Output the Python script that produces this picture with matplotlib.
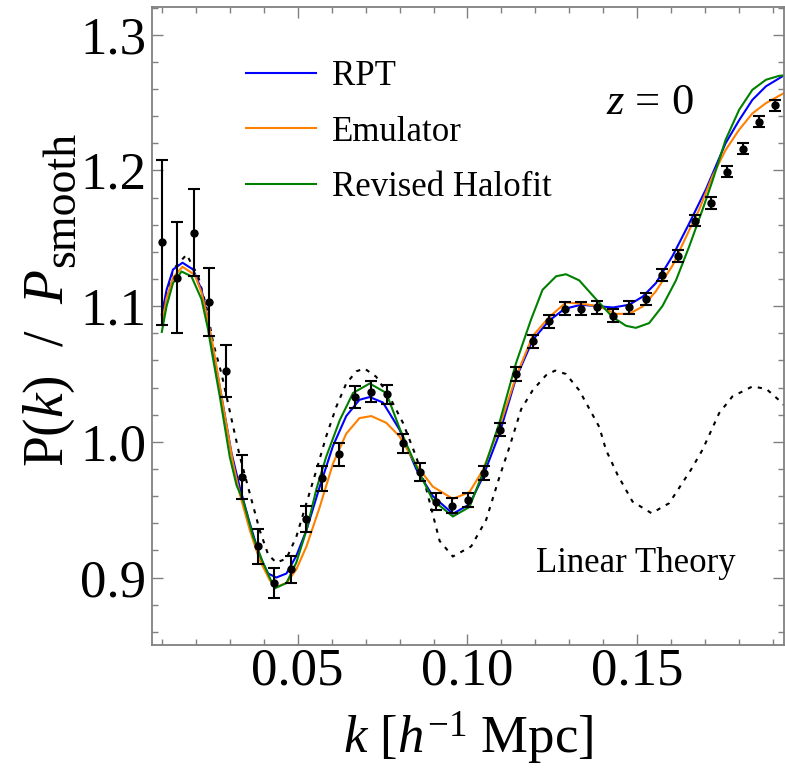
import matplotlib.pyplot as plt
from matplotlib.ticker import MultipleLocator, FormatStrFormatter

plt.rcParams['font.family'] = 'Liberation Serif'
plt.rcParams['mathtext.fontset'] = 'custom'
plt.rcParams['mathtext.rm'] = 'Liberation Serif'
plt.rcParams['mathtext.it'] = 'Liberation Serif:italic'

# measured points with errors
k_data = [0.0100, 0.0146, 0.0194, 0.0239, 0.0288, 0.0335, 0.0382, 0.0429, 0.0479, 0.0524,
          0.0571, 0.0621, 0.0668, 0.0715, 0.0763, 0.0810, 0.0859, 0.0906, 0.0953, 0.1001,
          0.1049, 0.1096, 0.1143, 0.1192, 0.1239, 0.1286, 0.1334, 0.1382, 0.1429, 0.1476,
          0.1526, 0.1574, 0.1621, 0.1669, 0.1717, 0.1764, 0.1811, 0.1859, 0.1907]
ratio_data = [1.147, 1.121, 1.154, 1.103, 1.052, 0.974, 0.923, 0.896, 0.906, 0.943,
              0.973, 0.991, 1.033, 1.037, 1.035, 0.999, 0.978, 0.956, 0.953, 0.957,
              0.977, 1.009, 1.050, 1.074, 1.089, 1.098, 1.098, 1.099, 1.093, 1.099,
              1.105, 1.123, 1.137, 1.163, 1.176, 1.199, 1.216, 1.236, 1.248]
err_data = [0.061, 0.041, 0.032, 0.025, 0.019, 0.016, 0.013, 0.011, 0.010, 0.0095,
            0.009, 0.0085, 0.008, 0.0075, 0.007, 0.007, 0.0065, 0.006, 0.0055, 0.0053,
            0.005, 0.0049, 0.0048, 0.0048, 0.0048, 0.0047, 0.0047, 0.0046, 0.0046, 0.0045,
            0.0045, 0.0044, 0.0044, 0.0043, 0.0043, 0.0042, 0.0041, 0.004, 0.0039]

# RPT
k_rpt = [0.0100, 0.0114, 0.0133, 0.0161, 0.0192, 0.0217, 0.0236, 0.0249, 0.0276, 0.0305,
         0.0329, 0.0359, 0.0388, 0.0413, 0.0437, 0.0467, 0.0496, 0.0526, 0.0565, 0.0604,
         0.0643, 0.0682, 0.0712, 0.0751, 0.0800, 0.0849, 0.0898, 0.0957, 0.1006, 0.1045,
         0.1094, 0.1143, 0.1192, 0.1239, 0.1286, 0.1334, 0.1382, 0.1429, 0.1476, 0.1516,
         0.1555, 0.1604, 0.1653, 0.1702, 0.1760, 0.1800, 0.1839, 0.1879, 0.1932]
p_rpt = [1.094, 1.112, 1.127, 1.132, 1.127, 1.112, 1.090, 1.070, 1.033, 0.992,
         0.967, 0.940, 0.916, 0.903, 0.900, 0.903, 0.916, 0.935, 0.967, 0.997,
         1.019, 1.031, 1.033, 1.029, 1.009, 0.980, 0.960, 0.947, 0.954, 0.974,
         1.006, 1.047, 1.075, 1.089, 1.098, 1.101, 1.100, 1.099, 1.101, 1.107,
         1.117, 1.137, 1.161, 1.186, 1.220, 1.237, 1.252, 1.262, 1.270]

# Emulator
k_emu = [0.0100, 0.0114, 0.0133, 0.0161, 0.0197, 0.0217, 0.0231, 0.0251, 0.0276, 0.0310,
         0.0329, 0.0359, 0.0388, 0.0418, 0.0437, 0.0467, 0.0496, 0.0526, 0.0565, 0.0604,
         0.0643, 0.0682, 0.0717, 0.0761, 0.0800, 0.0849, 0.0898, 0.0957, 0.1006, 0.1045,
         0.1094, 0.1143, 0.1192, 0.1241, 0.1290, 0.1339, 0.1388, 0.1437, 0.1476, 0.1516,
         0.1555, 0.1604, 0.1653, 0.1682, 0.1721, 0.1760, 0.1800, 0.1839, 0.1879, 0.1932]
p_emu = [1.086, 1.106, 1.121, 1.129, 1.123, 1.110, 1.095, 1.070, 1.033, 0.984,
         0.962, 0.935, 0.913, 0.898, 0.893, 0.896, 0.906, 0.923, 0.952, 0.984,
         1.006, 1.0175, 1.019, 1.014, 1.004, 0.983, 0.967, 0.958, 0.963, 0.979,
         1.011, 1.048, 1.078, 1.092, 1.1027, 1.1017, 1.0998, 1.0943, 1.0943, 1.0997,
         1.111, 1.130, 1.156, 1.171, 1.1955, 1.215, 1.230, 1.242, 1.2496, 1.257]

# Revised Halofit
k_hf = [0.0100, 0.0114, 0.0133, 0.0158, 0.0187, 0.0217, 0.0236, 0.0246, 0.0271, 0.0300,
        0.0320, 0.0339, 0.0369, 0.0398, 0.0432, 0.0467, 0.0496, 0.0526, 0.0555, 0.0584,
        0.0624, 0.0663, 0.0712, 0.0761, 0.0800, 0.0849, 0.0898, 0.0957, 0.1006, 0.1045,
        0.1094, 0.1143, 0.1187, 0.1221, 0.1261, 0.1290, 0.1329, 0.1379, 0.1427, 0.1467,
        0.1496, 0.1535, 0.1574, 0.1614, 0.1653, 0.1692, 0.1721, 0.1760, 0.1800, 0.1839,
        0.1879, 0.1918, 0.1932]
p_hf = [1.081, 1.100, 1.117, 1.1255, 1.122, 1.105, 1.083, 1.068, 1.033, 0.989,
        0.968, 0.957, 0.930, 0.911, 0.892, 0.896, 0.911, 0.935, 0.965, 0.989,
        1.016, 1.036, 1.043, 1.036, 1.010, 0.982, 0.957, 0.945, 0.952, 0.977,
        1.014, 1.058, 1.090, 1.112, 1.122, 1.1235, 1.119, 1.105, 1.092, 1.0855,
        1.084, 1.0875, 1.100, 1.119, 1.144, 1.171, 1.192, 1.2225, 1.2447, 1.2594,
        1.2668, 1.2697, 1.270]

# linear theory
k_lin = [0.0100, 0.0133, 0.0173, 0.0207, 0.0231, 0.0251, 0.0276, 0.0305, 0.0329, 0.0359,
         0.0388, 0.0413, 0.0437, 0.0467, 0.0496, 0.0526, 0.0555, 0.0584, 0.0614, 0.0643,
         0.0673, 0.0697, 0.0731, 0.0771, 0.0810, 0.0849, 0.0879, 0.0918, 0.0957, 0.1011,
         0.1055, 0.1094, 0.1124, 0.1158, 0.1192, 0.1231, 0.1258, 0.1290, 0.1329, 0.1388,
         0.1408, 0.1442, 0.1486, 0.1542, 0.1594, 0.1658, 0.1692, 0.1741, 0.1780, 0.1839,
         0.1880, 0.1922, 0.1932]
p_lin = [1.092, 1.127, 1.138, 1.122, 1.100, 1.073, 1.050, 1.017, 0.990, 0.962,
         0.935, 0.917, 0.911, 0.914, 0.930, 0.955, 0.979, 1.004, 1.026, 1.043,
         1.052, 1.054, 1.048, 1.033, 1.014, 0.989, 0.965, 0.927, 0.9155, 0.923,
         0.9425, 0.974, 0.9965, 1.024, 1.038, 1.049, 1.0525, 1.050, 1.038, 1.011,
         0.994, 0.9757, 0.956, 0.9474, 0.9548, 0.9794, 0.9941, 1.0211, 1.0334, 1.0408,
         1.039, 1.0297, 1.027]

W, H = 785, 779
fig = plt.figure(figsize=(W / 100, H / 100), dpi=100)
ax = fig.add_axes([0.1936, 0.172, 0.8051, 0.819])

ax.plot(k_lin, p_lin, color='black', lw=1.5, dashes=(2, 3))
ax.plot(k_rpt, p_rpt, color='#0000ff', lw=1.5, label='RPT')
ax.plot(k_emu, p_emu, color='#ff8000', lw=1.5, label='Emulator')
ax.plot(k_hf, p_hf, color='#008000', lw=1.5, label='Revised Halofit')
ax.errorbar(k_data, ratio_data, yerr=err_data, fmt='o', color='black', ms=5,
            capsize=4, elinewidth=1.5, capthick=1.5)

ax.set_xlim(0.0071, 0.1932)
ax.set_ylim(0.8503, 1.3204)
ax.xaxis.set_major_locator(MultipleLocator(0.05))
ax.xaxis.set_minor_locator(MultipleLocator(0.01))
ax.yaxis.set_major_locator(MultipleLocator(0.1))
ax.yaxis.set_minor_locator(MultipleLocator(0.02))
ax.xaxis.set_major_formatter(FormatStrFormatter('%.2f'))
ax.yaxis.set_major_formatter(FormatStrFormatter('%.1f'))

for s in ax.spines.values():
    s.set_color('#808080')
    s.set_linewidth(1.3)
ax.tick_params(which='both', direction='in', top=True, right=True, color='#808080', width=1)
ax.tick_params(which='major', length=8, labelsize=38)
ax.tick_params(which='minor', length=4)
ax.tick_params(axis='x', pad=2)
ax.tick_params(axis='y', pad=4)

ax.set_xlabel(r'$k$ [$h^{-1}$ Mpc]', fontsize=38, labelpad=10)

# y label built from two pieces so the subscript can be larger than mathtext allows
ylab = fig.text(63 / W, 1 - 467 / H, 'P($k$)  /  $P$', rotation=90, rotation_mode='anchor',
                ha='left', va='baseline', fontsize=40)
bb = ylab.get_window_extent(fig.canvas.get_renderer())
fig.text(74 / W, (bb.y1 + 2) / H, 'smooth', rotation=90, rotation_mode='anchor',
         ha='left', va='baseline', fontsize=33)

ax.legend(loc='upper left', bbox_to_anchor=(0.149, 0.917), frameon=False, fontsize=25,
          handlelength=2.0, handletextpad=0.46, labelspacing=0.65, borderpad=0, borderaxespad=0)
ax.text(0.788, 0.85, r'$z$ = 0', transform=ax.transAxes, fontsize=32, ha='center', va='center')
ax.text(0.766, 0.1285, 'Linear Theory', transform=ax.transAxes, fontsize=25, ha='center', va='center')

fig.savefig('out.png', dpi=100)
